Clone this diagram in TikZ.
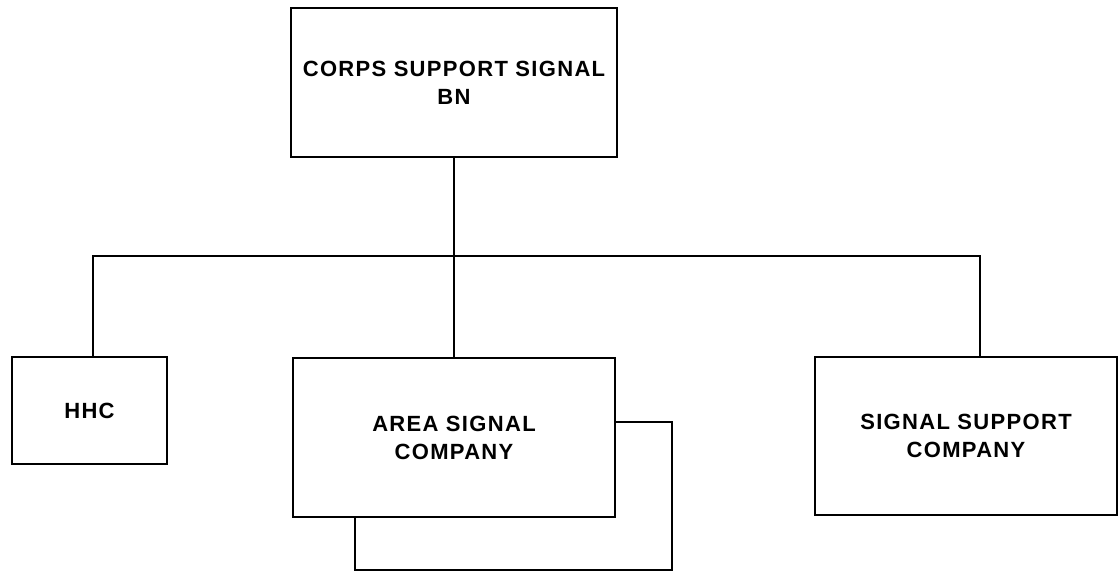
\documentclass[tikz,border=0pt]{standalone}
\usepackage{fontspec}
\setmainfont{Liberation Sans}[LetterSpace=6]
\begin{document}
\begin{tikzpicture}[x=1pt,y=-1pt,
  box/.style={draw=black,line width=2.8pt,fill=white,rectangle,align=center,inner sep=0pt,
    font=\fontsize{22}{28}\selectfont\bfseries},
  conn/.style={line width=2.8pt,line cap=rect}]
\useasboundingbox (0,0) rectangle (1119,573);
\node[box,minimum width=326,minimum height=149] (top) at (454,82.5) {CORPS SUPPORT SIGNAL\\BN};
\node[box,minimum width=155,minimum height=107] (hhc) at (89.5,410.5) {HHC};
\node[box,minimum width=317,minimum height=148] (shadow) at (513.5,496) {};
\node[box,minimum width=322,minimum height=159] (area) at (454,437.5) {AREA SIGNAL\\COMPANY};
\node[box,minimum width=302,minimum height=158] (ssc) at (966,436) {SIGNAL SUPPORT\\COMPANY};
\coordinate (busL) at (93,256);
\coordinate (busM) at (454,256);
\coordinate (busR) at (980,256);
\draw[conn] (top.south) -- (busM);
\draw[conn] (busL) -- (busR);
\draw[conn] (busL) -- (busL |- hhc.north);
\draw[conn] (busM) -- (area.north);
\draw[conn] (busR) -- (busR |- ssc.north);
\end{tikzpicture}
\end{document}
